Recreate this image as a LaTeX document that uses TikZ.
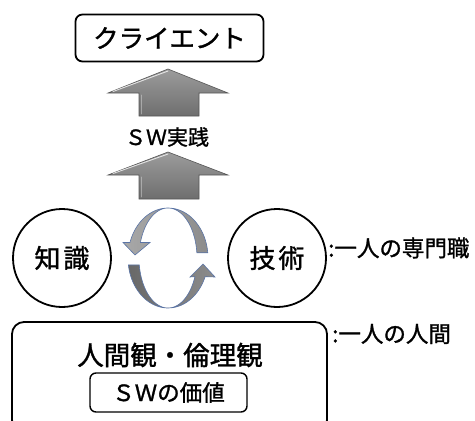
\documentclass[tikz,border=0pt]{standalone}
\usepackage{fontspec}
\setmainfont{Noto Sans CJK JP}[BoldFont={Noto Sans CJK JP}, BoldFeatures={FakeBold=1.3}]
\definecolor{arrowtop}{HTML}{9C9C9C}
\definecolor{arrowbot}{HTML}{6E6E6E}
\definecolor{arrowedge}{HTML}{555555}
\definecolor{cycedge}{HTML}{5A74A6}
\definecolor{cyclight}{HTML}{A8A8A8}
\definecolor{cycmid}{HTML}{8C8C8C}
\definecolor{cycdark}{HTML}{686868}
\begin{document}
\begin{tikzpicture}[x=1pt,y=-1pt,
  txt/.style={inner sep=0pt, font=\fontsize{#1}{#1}\selectfont\bfseries},
  roundbox/.style={draw, line width=1.8pt, rounded corners=7pt},
  ringnode/.style={draw, circle, line width=1.8pt, minimum size=98pt, inner sep=0pt, font=\fontsize{26}{26}\selectfont\bfseries},
  bigarrow/.style={top color=arrowtop, bottom color=arrowbot, draw=arrowedge, line width=0.6pt},
  highlight/.style={draw=white, opacity=0.75, line width=0.9pt, line cap=round},
  cycband/.style={draw=cycedge, line width=0.6pt}]
\useasboundingbox (0,0) rectangle (475,421);
\clip (0,0) rectangle (475,421);

% client box
\node[roundbox, minimum width=188pt, minimum height=47pt, txt=25.5] (client) at (169.5,38) {クライエント};

% upper big arrow
\path[bigarrow] (168,69) -- (228,93) -- (199,93) -- (199,116) -- (139,116) -- (139,93) -- (108,93) -- cycle;
\path[highlight] (113,91.5) -- (168,71);
\path[highlight, opacity=0.35] (141,95) -- (141,114);

\node[txt=21] (practice) at (167,137) {ＳＷ実践};

% lower big arrow
\path[bigarrow] (168,152) -- (228,175) -- (199,175) -- (199,199) -- (139,199) -- (139,175) -- (108,175) -- cycle;
\path[highlight] (113,173.5) -- (168,154);
\path[highlight, opacity=0.35] (141,177) -- (141,197);

% knowledge and skill circles
\node[ringnode] (knowledge) at (62,258) {知\hspace{3pt}識};
\node[ringnode] (skill) at (277,258) {技\hspace{3pt}術};

% cycle arrows
\path[cycband, left color=cyclight, right color=cycmid]
  plot[domain=6:162, samples=50, smooth] ({168+40*cos(\x)}, {258-50*sin(\x)})
  -- (123,242.5) -- (135,255) -- (150,242.5)
  -- plot[domain=162:6, samples=50, smooth] ({168+29*cos(\x)}, {258-50*sin(\x)})
  -- cycle;
\path[cycband, left color=cycdark, right color=cycmid]
  plot[domain=188:338, samples=50, smooth] ({168+40*cos(\x)}, {258-50*sin(\x)})
  -- (215,277) -- (203,264) -- (190,277)
  -- plot[domain=338:188, samples=50, smooth] ({168+29*cos(\x)}, {258-50*sin(\x)})
  -- cycle;

\node[txt=22.5, anchor=west] (profnote) at (328,248) {:一人の専門職};

% values box
\draw[line width=1.8pt, rounded corners=12pt] (12,322) rectangle (327,432);
\node[txt=26.5] (ethics) at (170,355) {人間観・倫理観};
\node[draw, line width=1.4pt, rounded corners=6pt, minimum width=157pt, minimum height=39pt, txt=22.5] (swvalue) at (168.5,392.5) {ＳＷの価値};

\node[txt=22.5, anchor=west] (humannote) at (332,334) {:一人の人間};
\end{tikzpicture}
\end{document}
